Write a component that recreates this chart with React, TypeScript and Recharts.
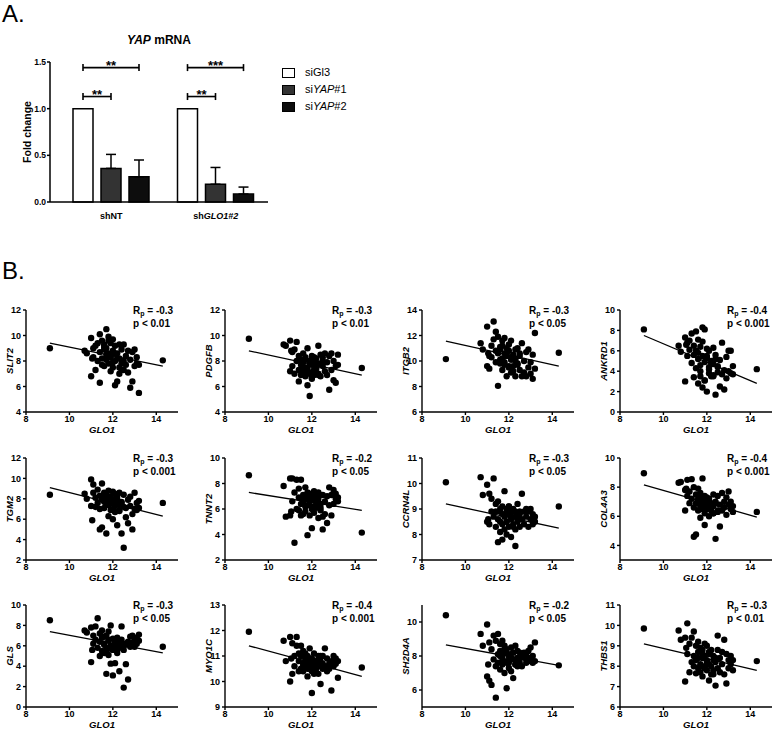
import React from "react";
import {
  BarChart,
  Bar,
  XAxis,
  YAxis,
  ErrorBar,
  ScatterChart,
  Scatter,
  ReferenceLine,
} from "recharts";

// ---- panel A data ----
const groups = ["shNT", "shGLO1#2"];
const siGl3 = [1.0, 1.0];
const siYAP1 = [0.36, 0.19];
const siYAP2 = [0.27, 0.085];
const siYAP1Err = [0.15, 0.18];
const siYAP2Err = [0.18, 0.075];
const bracketHigh = [1.44, 1.44];
const bracketLow = [1.13, 1.13];
const starsHigh = ["**", "***"];
const starsLow = ["**", "**"];
const foldTicks = [0, 0.5, 1.0, 1.5];

// ---- panel B data ----
const GLO1 = [
  9.1, 14.3, 10.7, 10.8, 11.0, 11.0, 11.1, 11.1, 11.2, 11.2,
  11.3, 11.3, 11.4, 11.4, 11.4, 11.5, 11.5, 11.5, 11.6, 11.6,
  11.6, 11.7, 11.7, 11.7, 11.8, 11.8, 11.8, 11.9, 11.9, 11.9,
  12.0, 12.0, 12.0, 12.1, 12.1, 12.1, 12.2, 12.2, 12.3, 12.3,
  12.3, 12.4, 12.4, 12.5, 12.5, 12.6, 12.6, 12.7, 12.7, 12.8,
  12.8, 12.9, 12.9, 13.0, 13.0, 13.1, 13.1, 13.2, 13.2, 11.05,
  11.6, 11.7, 11.8, 11.9, 12.0, 12.1, 12.2, 12.3, 12.4, 12.5,
];

const SLIT2 = [
  9.0, 8.05, 8.8, 8.6, 6.8, 9.8, 9.0, 8.3, 7.3, 9.2,
  8.0, 9.4, 6.3, 10.1, 8.7, 7.7, 9.6, 8.2, 9.3, 7.6,
  8.9, 10.5, 9.0, 8.1, 9.9, 7.8, 8.6, 9.4, 7.2, 8.4,
  9.7, 7.5, 8.8, 6.1, 9.2, 8.0, 6.4, 8.6, 9.3, 7.5,
  8.2, 8.9, 7.8, 9.3, 7.3, 8.4, 7.7, 8.8, 7.1, 8.1,
  5.9, 6.4, 8.7, 7.6, 8.9, 8.3, 7.8, 5.5, 7.7, 8.2,
  9.1, 8.5, 9.6, 8.3, 7.9, 8.6, 8.2, 7.0, 7.3, 8.0,
];
const PDGFB = [
  9.75, 7.45, 9.3, 9.2, 7.2, 9.6, 8.7, 7.6, 8.9, 7.0,
  9.5, 8.0, 6.4, 8.4, 7.3, 8.1, 6.9, 7.7, 8.6, 7.2,
  7.9, 6.8, 8.3, 7.5, 6.1, 9.0, 7.4, 5.25, 8.0, 7.1,
  7.7, 6.6, 8.4, 7.3, 7.9, 6.9, 8.2, 7.5, 9.2, 7.0,
  7.8, 8.5, 6.8, 7.6, 8.3, 7.2, 8.6, 7.9, 6.9, 8.4,
  5.75, 8.6, 7.3, 6.5, 8.0, 7.6, 6.3, 8.5, 7.7, 8.8,
  7.5, 8.1, 7.0, 7.8, 6.7, 8.3, 7.4, 6.9, 7.7, 8.0,
];
const ITGB2 = [
  10.15, 10.65, 11.4, 10.9, 9.6, 12.7, 10.4, 9.4, 11.2, 10.3,
  11.7, 13.1, 12.3, 10.8, 9.9, 8.05, 11.9, 10.6, 11.1, 9.8,
  10.9, 11.6, 10.2, 9.3, 11.8, 10.6, 9.7, 11.0, 8.8, 10.4,
  11.3, 9.5, 10.8, 10.1, 9.1, 11.6, 10.5, 9.6, 10.9, 8.8,
  10.2, 11.0, 9.8, 9.3, 10.6, 8.8, 11.4, 10.0, 9.1, 10.7,
  8.8, 9.5, 10.9, 9.0, 9.9, 8.6, 10.5, 12.2, 9.4, 10.6,
  10.1, 11.2, 9.9, 10.6, 9.6, 10.3, 9.2, 10.0, 9.7, 10.4,
];
const ANKRD1 = [
  8.1, 4.2, 6.5, 5.9, 3.0, 7.3, 6.8, 5.5, 7.0, 6.1,
  7.7, 4.8, 6.5, 3.4, 5.6, 7.9, 4.3, 6.0, 2.8, 5.2,
  7.1, 3.5, 6.4, 4.6, 8.3, 2.4, 5.5, 8.1, 3.1, 4.9,
  6.2, 2.0, 5.3, 3.8, 6.0, 4.4, 3.5, 5.0, 6.3, 3.6,
  4.7, 1.7, 5.6, 3.9, 4.5, 2.5, 5.1, 3.7, 6.8, 2.2,
  4.1, 5.4, 3.3, 6.0, 4.0, 6.0, 3.8, 4.5, 3.7, 6.6,
  5.8, 4.0, 6.9, 3.1, 5.5, 4.2, 4.8, 3.5, 5.2, 4.4,
];
const TGM2 = [
  8.4, 7.6, 8.5, 8.0, 9.9, 7.3, 9.4, 8.6, 7.2, 8.1,
  8.9, 7.6, 5.0, 8.3, 7.0, 9.5, 5.2, 7.9, 8.6, 7.1,
  8.0, 4.6, 8.4, 7.4, 8.8, 6.3, 7.8, 8.2, 6.9, 7.6,
  8.7, 6.0, 7.9, 7.3, 8.5, 6.7, 5.4, 8.0, 7.5, 8.6,
  6.9, 7.7, 4.6, 8.4, 3.2, 7.1, 6.2, 7.9, 5.6, 7.3,
  8.2, 5.0, 6.5, 7.0, 8.6, 6.9, 7.6, 7.8, 7.1, 5.9,
  7.7, 8.3, 7.4, 8.1, 7.0, 7.8, 8.3, 6.8, 7.6, 7.2,
];
const TNNT2 = [
  8.65, 4.15, 7.8, 5.4, 8.4, 5.5, 8.4, 6.6, 3.35, 7.3,
  6.0, 8.3, 6.9, 5.9, 7.6, 8.3, 6.4, 5.5, 7.1, 6.5,
  5.6, 7.7, 6.8, 5.8, 3.95, 7.0, 6.3, 5.5, 7.2, 6.6,
  4.5, 6.9, 6.2, 7.4, 5.7, 6.7, 7.0, 6.1, 6.8, 5.3,
  7.2, 6.4, 5.9, 4.4, 7.1, 6.6, 5.6, 7.0, 4.9, 7.7,
  6.3, 5.5, 7.1, 7.5, 6.4, 6.8, 7.2, 6.9, 6.6, 5.8,
  6.8, 6.2, 7.3, 6.7, 6.0, 7.0, 6.5, 7.3, 6.1, 5.4,
];
const CCRN4L = [
  10.05, 9.1, 10.25, 9.55, 8.5, 9.95, 9.6, 8.4, 8.9, 9.4,
  10.2, 8.7, 9.2, 8.3, 8.9, 7.7, 9.3, 8.6, 8.1, 9.0,
  8.5, 7.8, 8.8, 9.1, 9.7, 8.2, 8.7, 8.0, 9.0, 8.5,
  8.3, 8.8, 9.1, 8.6, 7.9, 8.9, 8.4, 9.0, 8.7, 8.2,
  7.55, 9.2, 8.5, 8.8, 8.3, 9.6, 8.6, 8.9, 8.4, 8.7,
  9.0, 8.3, 8.9, 8.6, 9.0, 8.4, 8.8, 8.5, 8.7, 8.6,
  8.9, 8.4, 8.8, 8.5, 9.1, 8.7, 8.3, 8.9, 8.6, 8.9,
];
const COL4A3 = [
  8.95, 6.3, 8.3, 8.35, 6.4, 7.8, 8.5, 7.4, 6.9, 7.7,
  8.55, 7.2, 4.6, 8.0, 6.6, 4.75, 7.5, 6.9, 7.9, 6.4,
  7.2, 7.6, 6.8, 5.9, 8.6, 7.1, 6.5, 5.4, 7.4, 6.2,
  7.0, 6.6, 7.3, 6.0, 6.8, 7.2, 6.4, 6.9, 7.5, 6.2,
  6.7, 4.45, 6.9, 7.4, 6.3, 5.3, 6.8, 7.6, 6.4, 7.0,
  6.6, 7.3, 6.1, 7.7, 6.8, 6.5, 7.0, 6.7, 6.3, 7.9,
  7.0, 6.6, 7.3, 6.9, 6.5, 7.1, 6.7, 6.2, 7.0, 6.4,
];
const GLS = [
  8.5, 5.9, 7.5, 7.3, 4.4, 7.8, 7.0, 6.2, 7.9, 6.6,
  8.7, 5.8, 7.2, 6.4, 5.0, 7.5, 6.8, 5.5, 6.9, 5.3,
  6.2, 3.25, 7.0, 5.8, 6.5, 5.1, 7.4, 8.0, 4.25, 6.0,
  3.1, 6.7, 5.6, 4.3, 6.4, 5.9, 6.8, 5.3, 6.3, 5.8,
  3.5, 6.6, 7.9, 5.6, 1.9, 6.1, 4.2, 2.7, 6.4, 6.9,
  5.9, 7.0, 6.3, 6.6, 5.9, 6.8, 6.2, 7.1, 6.5, 5.6,
  6.1, 5.4, 6.6, 5.7, 6.0, 6.3, 5.6, 6.4, 5.9, 6.2,
];
const MYO1C = [
  11.95, 10.55, 11.6, 10.8, 11.75, 10.0, 10.3, 11.5, 11.0, 10.6,
  11.4, 11.75, 10.4, 11.1, 10.8, 11.4, 10.5, 11.0, 10.7, 11.2,
  10.4, 10.9, 11.1, 10.6, 10.2, 10.8, 11.0, 10.5, 11.3, 10.7,
  9.55, 10.9, 10.4, 10.6, 11.1, 10.3, 10.8, 10.5, 11.0, 10.7,
  10.3, 9.9, 10.8, 10.5, 11.0, 10.6, 11.3, 10.4, 10.9, 10.7,
  10.5, 9.65, 10.8, 11.0, 10.6, 10.9, 10.7, 10.15, 10.8, 10.9,
  10.6, 10.8, 10.5, 10.9, 10.7, 10.4, 10.8, 10.6, 11.0, 10.7,
];
const SH2D4A = [
  10.4, 7.45, 9.3, 8.6, 9.85, 6.8, 6.55, 8.8, 6.3, 8.4,
  9.2, 7.8, 5.55, 8.9, 7.4, 9.3, 8.1, 7.6, 8.7, 7.2,
  8.3, 7.9, 8.9, 7.5, 8.6, 7.0, 8.2, 6.1, 7.7, 8.4,
  7.3, 8.0, 7.6, 8.5, 7.1, 7.9, 6.7, 8.2, 7.5, 8.6,
  7.8, 7.4, 8.3, 7.9, 7.6, 8.1, 7.4, 7.9, 8.2, 7.6,
  8.0, 7.7, 8.3, 7.9, 8.5, 7.6, 8.0, 8.8, 7.7, 7.5,
  8.0, 7.7, 8.4, 7.6, 8.1, 7.8, 8.2, 7.5, 7.9, 8.2,
];
const THBS1 = [
  9.85, 8.25, 9.75, 9.3, 7.25, 9.4, 10.1, 8.6, 7.7, 9.1,
  8.2, 9.4, 8.0, 9.7, 8.5, 7.65, 9.0, 8.3, 7.9, 8.7,
  9.2, 8.1, 7.7, 8.9, 8.4, 7.5, 8.8, 9.1, 8.0, 8.5,
  7.8, 8.3, 9.0, 7.3, 8.6, 8.1, 7.6, 8.8, 8.3, 7.8,
  8.5, 7.05, 8.2, 9.5, 7.9, 8.4, 7.7, 8.7, 8.1, 9.3,
  7.6, 7.15, 8.6, 8.3, 7.9, 8.5, 8.1, 8.3, 7.8, 8.9,
  8.4, 8.0, 8.6, 7.9, 8.2, 8.7, 8.0, 7.6, 8.4, 8.8,
];

const genes = [
  "SLIT2", "PDGFB", "ITGB2", "ANKRD1",
  "TGM2", "TNNT2", "CCRN4L", "COL4A3",
  "GLS", "MYO1C", "SH2D4A", "THBS1",
];
const geneValues = [
  SLIT2, PDGFB, ITGB2, ANKRD1,
  TGM2, TNNT2, CCRN4L, COL4A3,
  GLS, MYO1C, SH2D4A, THBS1,
];
const yDomains = [
  [4, 12], [4, 12], [6, 14], [0, 10],
  [2, 12], [2, 10], [7, 11], [3, 10],
  [0, 10], [9, 13], [5, 11], [6, 11],
];
const yTicks = [
  [4, 6, 8, 10, 12], [4, 6, 8, 10, 12], [6, 8, 10, 12, 14], [0, 2, 4, 6, 8, 10],
  [2, 4, 6, 8, 10, 12], [2, 4, 6, 8, 10], [7, 8, 9, 10, 11], [4, 6, 8, 10],
  [0, 2, 4, 6, 8, 10], [9, 10, 11, 12, 13], [6, 8, 10], [6, 7, 8, 9, 10, 11],
];
// regression line values at min / max GLO1
const fitStart = [9.4, 8.8, 11.55, 7.5, 9.1, 7.3, 9.2, 8.15, 7.4, 11.4, 8.65, 9.1];
const fitEnd = [7.6, 6.9, 9.6, 2.8, 6.3, 5.9, 8.25, 5.95, 5.3, 10.2, 7.45, 7.8];
const rValues = ["-0.3", "-0.3", "-0.3", "-0.4", "-0.3", "-0.2", "-0.3", "-0.4", "-0.3", "-0.4", "-0.2", "-0.3"];
const pLabels = ["p < 0.01", "p < 0.01", "p < 0.05", "p < 0.001", "p < 0.001", "p < 0.05", "p < 0.05", "p < 0.001", "p < 0.05", "p < 0.001", "p < 0.05", "p < 0.01"];

const FONT = "Arial, 'Liberation Sans', sans-serif";
const BAR = 20;
const GAP = 8;
const COL_X = [26, 225, 422, 620];
const ROW_Y = [310, 458, 605];

const barData = groups.map((g, i) => ({
  group: g,
  siGl3: siGl3[i],
  siYAP1: siYAP1[i],
  siYAP2: siYAP2[i],
  err1: [0, siYAP1Err[i]],
  err2: [0, siYAP2Err[i]],
}));

function renderBrackets(p: any) {
  const vb = p.viewBox ?? p;
  const { x, y, width, height } = vb;
  const index = p.index ?? 0;
  const bottom = y + height;
  const unit = height / siGl3[index];
  const cx = x + width / 2;
  const step = BAR + GAP;
  const bracket = (x2: number, yy: number, label: string) => (
    <g>
      <line x1={cx} x2={x2} y1={yy} y2={yy} stroke="#000" strokeWidth={1.6} />
      <line x1={cx} x2={cx} y1={yy - 3.5} y2={yy + 3.5} stroke="#000" strokeWidth={1.6} />
      <line x1={x2} x2={x2} y1={yy - 3.5} y2={yy + 3.5} stroke="#000" strokeWidth={1.6} />
      <text x={(cx + x2) / 2} y={yy + 2} textAnchor="middle" fontSize={13} fontWeight="bold" fill="#000">
        {label}
      </text>
    </g>
  );
  return (
    <g>
      {bracket(cx + 2 * step, bottom - bracketHigh[index] * unit, starsHigh[index])}
      {bracket(cx + step, bottom - bracketLow[index] * unit, starsLow[index])}
    </g>
  );
}

function GroupTick(props: any) {
  const { x, y, payload } = props;
  const v: string = payload.value;
  const italic = v.startsWith("sh") && v !== "shNT";
  return (
    <text x={x} y={y + 9} textAnchor="middle" fontSize={9} fontWeight="bold" fill="#000">
      {italic ? (
        <>
          <tspan>sh</tspan>
          <tspan fontStyle="italic">{v.slice(2)}</tspan>
        </>
      ) : (
        v
      )}
    </text>
  );
}

function PanelA() {
  return (
    <div style={{ position: "absolute", left: 0, top: 0 }}>
      <BarChart
        width={274}
        height={230}
        data={barData}
        margin={{ top: 62, right: 6, bottom: 8, left: 0 }}
        barSize={BAR}
        barGap={GAP}
      >
        <XAxis
          dataKey="group"
          height={20}
          padding={{ left: 9, right: 0 }}
          tickLine={false}
          axisLine={{ stroke: "#000", strokeWidth: 1.5 }}
          tick={<GroupTick />}
        />
        <YAxis
          width={50}
          domain={[0, 1.5]}
          ticks={foldTicks}
          tickFormatter={(v: number) => v.toFixed(1)}
          tickSize={3}
          tickMargin={1}
          tick={{ fontSize: 8.5, fontWeight: "bold", fill: "#000" }}
          tickLine={{ stroke: "#000", strokeWidth: 1.5 }}
          axisLine={{ stroke: "#000", strokeWidth: 1.5 }}
          label={{
            value: "Fold change",
            angle: -90,
            position: "center",
            dx: 2,
            fontSize: 10.5,
            fontWeight: "bold",
            fill: "#000",
          }}
        />
        <Bar dataKey="siGl3" fill="#fff" stroke="#000" strokeWidth={1.5} isAnimationActive={false} label={renderBrackets} />
        <Bar dataKey="siYAP1" fill="#333" stroke="#000" strokeWidth={1.5} isAnimationActive={false}>
          <ErrorBar dataKey="err1" width={5} stroke="#000" strokeWidth={1.5} direction="y" />
        </Bar>
        <Bar dataKey="siYAP2" fill="#0d0d0d" stroke="#000" strokeWidth={1.5} isAnimationActive={false}>
          <ErrorBar dataKey="err2" width={5} stroke="#000" strokeWidth={1.5} direction="y" />
        </Bar>
      </BarChart>
      <div
        style={{
          position: "absolute",
          left: 50,
          width: 218,
          top: 33,
          textAlign: "center",
          fontSize: 12,
          fontWeight: "bold",
          lineHeight: "14px",
        }}
      >
        <i>YAP</i> mRNA
      </div>
      <div style={{ position: "absolute", left: 282, top: 64, fontSize: 11, lineHeight: "17px" }}>
        {[
          { fill: "#fff", label: <>siGl3</> },
          { fill: "#333", label: <>si<i>YAP</i>#1</> },
          { fill: "#0d0d0d", label: <>si<i>YAP</i>#2</> },
        ].map((e, i) => (
          <div key={i} style={{ display: "flex", alignItems: "center", height: 17 }}>
            <span
              style={{
                display: "inline-block",
                width: 11,
                height: 8,
                background: e.fill,
                border: "1.5px solid #000",
                marginRight: 10,
              }}
            />
            <span>{e.label}</span>
          </div>
        ))}
      </div>
    </div>
  );
}

const xMin = Math.min(...GLO1);
const xMax = Math.max(...GLO1);

function Dot(p: any) {
  return <circle cx={p.cx} cy={p.cy} r={3.2} fill="#000" />;
}

function Panel({ idx }: { idx: number }) {
  const col = idx % 4;
  const row = Math.floor(idx / 4);
  const axisX = COL_X[col];
  const top = ROW_Y[row];
  const vals = geneValues[idx];
  const data = GLO1.map((x, i) => ({ x, y: vals[i] }));
  const axisStyle = { stroke: "#000", strokeWidth: 1.4 };
  return (
    <div style={{ position: "absolute", left: axisX - 32, top: top - 6 }}>
      <ScatterChart width={190} height={131} margin={{ top: 6, right: 6, bottom: 2, left: 0 }}>
        <XAxis
          type="number"
          dataKey="x"
          domain={[8, 15]}
          ticks={[8, 10, 12, 14]}
          height={21}
          tickSize={3}
          tickMargin={1}
          tick={{ fontSize: 9, fontWeight: "bold", fill: "#000" }}
          tickLine={axisStyle}
          axisLine={axisStyle}
          label={{
            value: "GLO1",
            position: "insideBottom",
            offset: 0,
            fontSize: 9.5,
            fontWeight: "bold",
            fontStyle: "italic",
            fill: "#000",
          }}
        />
        <YAxis
          type="number"
          dataKey="y"
          domain={yDomains[idx]}
          ticks={yTicks[idx]}
          width={32}
          tickSize={3}
          tick={{ fontSize: 9, fontWeight: "bold", fill: "#000" }}
          tickLine={axisStyle}
          axisLine={axisStyle}
          label={{
            value: genes[idx],
            angle: -90,
            position: "center",
            fontSize: 9.5,
            fontWeight: "bold",
            fontStyle: "italic",
            fill: "#000",
          }}
        />
        <Scatter data={data} isAnimationActive={false} shape={<Dot />} />
        <ReferenceLine
          segment={[
            { x: xMin, y: fitStart[idx] },
            { x: xMax, y: fitEnd[idx] },
          ]}
          stroke="#000"
          strokeWidth={1.3}
        />
      </ScatterChart>
      <div
        style={{
          position: "absolute",
          left: 139,
          top: 1,
          fontSize: 10,
          fontWeight: "bold",
          lineHeight: "12px",
          whiteSpace: "nowrap",
        }}
      >
        <div>
          R<span style={{ fontSize: 7, position: "relative", top: 2 }}>p</span> = {rValues[idx]}
        </div>
        <div>{pLabels[idx]}</div>
      </div>
    </div>
  );
}

export default function App() {
  return (
    <div
      style={{
        position: "absolute",
        left: 0,
        top: 0,
        width: 774,
        height: 729,
        background: "#fff",
        fontFamily: FONT,
        color: "#000",
        overflow: "hidden",
      }}
    >
      <div style={{ position: "absolute", left: 2, top: 2, fontSize: 24, lineHeight: "24px" }}>A.</div>
      <PanelA />
      <div style={{ position: "absolute", left: 2, top: 259, fontSize: 24, lineHeight: "24px" }}>B.</div>
      {genes.map((g, i) => (
        <Panel key={g} idx={i} />
      ))}
    </div>
  );
}
